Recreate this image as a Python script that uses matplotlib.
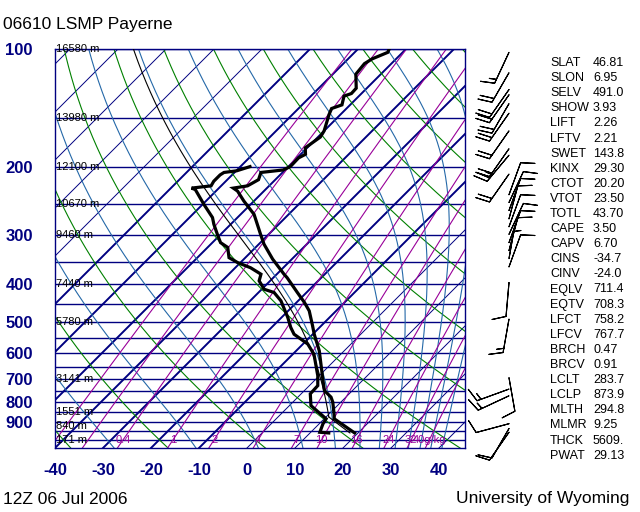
import numpy as np
import matplotlib
matplotlib.use("Agg")
import matplotlib.pyplot as plt
from matplotlib.ticker import NullLocator

plt.rcParams['font.family'] = ['Liberation Sans', 'DejaVu Sans']

# ---- sounding data ----
temp_p = [961, 884, 858, 801, 778, 749, 706, 640, 592, 537, 511, 468, 445, 420,
          385, 377, 345, 316, 298, 265, 245, 231, 227, 224, 216, 207, 204, 200,
          190, 186, 179, 168, 162, 147, 142, 139, 132, 130, 126, 116, 109, 106,
          102, 100]
temp_t = [19.3, 12.1, 11.0, 8.3, 6.9, 4.2, 1.8, -2.1, -5.2, -9.7, -11.8, -15.6,
          -18.4, -21.9, -27.1, -28.5, -34.0, -38.9, -41.7, -47.2, -52.1, -55.5,
          -57.0, -54.5, -53.5, -54.5, -50.4, -49.6, -49.7, -49.0, -50.4, -49.5,
          -50.0, -52.4, -53.1, -51.7, -53.1, -52.1, -52.2, -55.2, -55.6, -55.0,
          -53.1, -53.5]

dwpt_p = [961, 957, 911, 884, 818, 763, 727, 686, 604, 569, 537, 516, 486, 441,
          420, 412, 392, 377, 363, 352, 342, 322, 313, 298, 281, 270, 250, 229,
          227, 224, 218, 210, 207, 205, 200]
dwpt_t = [13.9, 11.9, 10.8, 10.4, 4.5, 1.9, 1.75, -0.3, -5.6, -9.0, -13.9, -16.0,
          -18.75, -23.6, -26.75, -29.5, -32.3, -33.3, -36.8, -40.6, -43.4, -45.8,
          -48.3, -50.7, -53.5, -55.2, -59.7, -64.6, -65.7, -62.1, -62.5, -62.5,
          -62.2, -59.9, -58.0]

# wind: pressure (hPa), direction (deg), speed (knots)
wind_p = [102, 115, 127, 131, 138, 146, 162, 180, 187, 209, 236, 247, 259, 272,
          285, 298, 313, 328, 344, 361, 396, 491, 694, 742, 772, 910, 936, 957]
wind_dir = [205, 210, 215, 215, 210, 215, 215, 215, 220, 215, 20, 25, 20, 15,
            20, 25, 20, 15, 10, 20, 185, 190, 170, 250, 245, 255, 210, 215]
wind_spd = [15, 20, 20, 20, 20, 20, 20, 20, 25, 20, 10, 10, 10, 10,
            10, 10, 10, 10, 5, 10, 10, 15, 10, 15, 15, 10, 10, 10]

height_p = [100, 150, 200, 250, 300, 400, 500, 700, 850, 925, 1000]
height_lbl = ["16580 m", "13980 m", "12100 m", "10670 m", "9460 m", "7440 m",
              "5780 m", "3141 m", "1551 m", "840 m", "171 m"]

isobars = [100, 150, 200, 250, 300, 350, 400, 450, 500, 550, 600, 650, 700,
           750, 800, 850, 900, 950, 1000]
mix_ratios = [0.1, 0.2, 0.4, 1, 2, 4, 7, 10, 16, 24, 32, 40]
mix_labels = {0.4: "0.4", 1: "1", 2: "2", 4: "4", 7: "7", 10: "10", 16: "16",
              24: "24", 32: "32", 40: "40g/kg"}

stat_names = ["SLAT", "SLON", "SELV", "SHOW", "LIFT", "LFTV", "SWET", "KINX",
              "CTOT", "VTOT", "TOTL", "CAPE", "CAPV", "CINS", "CINV", "EQLV",
              "EQTV", "LFCT", "LFCV", "BRCH", "BRCV", "LCLT", "LCLP", "MLTH",
              "MLMR", "THCK", "PWAT"]
stat_vals = ["46.81", "6.95", "491.0", "3.93", "2.26", "2.21", "143.8", "29.30",
             "20.20", "23.50", "43.70", "3.50", "6.70", "-34.7", "-24.0", "711.4",
             "708.3", "758.2", "767.7", "0.47", "0.91", "283.7", "873.9", "294.8",
             "9.25", "5609.", "29.13"]
lclt, lclp, mlth = 283.7, 873.9, 294.8

# ---- geometry ----
W, H = 640, 512
P_BOT, P_TOP = 1050.0, 100.0
X_MIN = -40.0
px_per_deg = 4.8
ax_w_px, ax_h_px = 410, 399
X_MAX = X_MIN + ax_w_px / px_per_deg
SKEW = (ax_h_px / np.log(P_BOT / P_TOP)) / px_per_deg

NAVY = '#000080'
GREEN = '#008000'
MOIST = '#2468a8'
PURPLE = '#990099'

RD, CP, LV, EPS = 287.04, 1005.7, 2.501e6, 0.622


def skx(t, p):
    return np.asarray(t) + SKEW * np.log(P_BOT / np.asarray(p, dtype=float))


def es(tc):
    return 6.112 * np.exp(17.67 * tc / (tc + 243.5))


def td_from_w(w, p):
    e = w * p / (622.0 + w)
    a = np.log(e / 6.112)
    return 243.5 * a / (17.67 - a)


def moist_path(t_start, p_start, p_end, n=300):
    lnp = np.linspace(np.log(p_start), np.log(p_end), n)
    t = np.empty((n,) + np.shape(t_start))
    t[0] = np.asarray(t_start) + 273.15

    def f(tk, lp):
        pp = np.exp(lp)
        e = es(tk - 273.15)
        rs = EPS * e / (pp - e)
        return (RD * tk + LV * rs) / (CP + LV * LV * rs * EPS / (RD * tk * tk))

    for i in range(n - 1):
        h = lnp[i + 1] - lnp[i]
        k1 = f(t[i], lnp[i])
        k2 = f(t[i] + h * k1 / 2, lnp[i] + h / 2)
        k3 = f(t[i] + h * k2 / 2, lnp[i] + h / 2)
        k4 = f(t[i] + h * k3, lnp[i + 1])
        t[i + 1] = t[i] + h * (k1 + 2 * k2 + 2 * k3 + k4) / 6
    return np.exp(lnp), t - 273.15


fig = plt.figure(figsize=(W / 100, H / 100), dpi=100)
ax = fig.add_axes([55 / W, (H - 448) / H, ax_w_px / W, ax_h_px / H])
ax.set_yscale('log')
ax.set_ylim(P_BOT, P_TOP)
ax.set_xlim(X_MIN, X_MAX)

pp = np.geomspace(P_BOT, P_TOP, 200)

# isobars
for p in isobars:
    ax.axhline(p, color=NAVY, lw=1.0, zorder=2)

# isotherms (the cold ones are drawn heavier, as on the original)
for t in range(-160, 60, 10):
    lw = 1.4 if -70 <= t <= -10 else 0.7
    ax.plot([t, t + SKEW * np.log(P_BOT / P_TOP)], [P_BOT, P_TOP],
            color=NAVY, lw=lw, zorder=2)

# dry adiabats
for th in np.arange(233.15, 500, 20):
    tt = th * (pp / 1000.0) ** (RD / CP) - 273.15
    ax.plot(skx(tt, pp), pp, color=GREEN, lw=0.8, zorder=2)

# moist adiabats (defined by their temperature at the top)
theta_top = np.arange(243.0, 480, 20)
t_top = theta_top * (P_TOP / 1000.0) ** (RD / CP) - 273.15
mp, mt = moist_path(t_top, P_TOP, P_BOT)
for j in range(len(t_top)):
    ax.plot(skx(mt[:, j], mp), mp, color=MOIST, lw=0.8, zorder=2)

# mixing ratio lines
for w in mix_ratios:
    ax.plot(skx(td_from_w(w, pp), pp), pp, color=PURPLE, lw=0.8, zorder=2)
    if w in mix_labels:
        ax.text(skx(td_from_w(w, 1000.0), 1000.0), 1000, mix_labels[w],
                color=PURPLE, fontsize=8, ha='center', va='center', zorder=4)

# height labels
for p, lbl in zip(height_p, height_lbl):
    ax.text(X_MIN + 0.3, p, lbl, fontsize=8, ha='left', va='center',
            color='black', zorder=4)

# parcel path: dry from surface to LCL, then moist
p_dry = np.geomspace(temp_p[0], lclp, 20)
t_dry = mlth * (p_dry / 1000.0) ** (RD / CP) - 273.15
p_m, t_m = moist_path(np.array([lclt - 273.15]), lclp, P_TOP)
ax.plot(skx(t_dry, p_dry), p_dry, color='black', lw=0.8, zorder=5)
ax.plot(skx(t_m[:, 0], p_m), p_m, color='black', lw=0.8, zorder=5)

# temperature and dewpoint
ax.plot(skx(temp_t, temp_p), temp_p, color='black', lw=2.3, zorder=6,
        solid_joinstyle='miter')
ax.plot(skx(dwpt_t, dwpt_p), dwpt_p, color='black', lw=2.3, zorder=6,
        solid_joinstyle='miter')

# axes, ticks
for s in ax.spines.values():
    s.set_color(NAVY)
    s.set_linewidth(1.0)
ax.set_xticks(range(-40, 41, 10))
ax.set_xticklabels([str(v) for v in range(-40, 41, 10)])
ax.set_yticks(range(100, 1000, 100))
ax.set_yticklabels([str(v) for v in range(100, 1000, 100)])
ax.yaxis.set_minor_locator(NullLocator())
ax.tick_params(axis='both', length=0, colors=NAVY, labelsize=12)
ax.tick_params(axis='x', pad=11)
ax.tick_params(axis='y', pad=16)
for lab in ax.get_xticklabels() + ax.get_yticklabels():
    lab.set_fontweight('bold')

# wind barbs
axw = fig.add_axes([470 / W, (H - 448) / H, 80 / W, ax_h_px / H])
axw.set_yscale('log')
axw.set_ylim(P_BOT, P_TOP)
axw.set_xlim(0, 80)
axw.axis('off')
wd = np.radians(wind_dir)
u = -np.array(wind_spd) * np.sin(wd)
v = -np.array(wind_spd) * np.cos(wd)
axw.barbs(np.full(len(wind_p), 39.0), wind_p, u, v, length=7,
          linewidth=0.8, color='black', clip_on=False)

# texts
fig.text(3 / W, 1 - 24 / H, "06610 LSMP Payerne", fontsize=12.5,
         ha='left', va='center')
fig.text(3 / W, 1 - 499 / H, "12Z 06 Jul 2006", fontsize=12.5,
         ha='left', va='center')
fig.text(629 / W, 1 - 499 / H, "University of Wyoming", fontsize=12.5,
         ha='right', va='center')

for i, (n, val) in enumerate(zip(stat_names, stat_vals)):
    y = 1 - (63 + i * 15.1) / H
    fig.text(550 / W, y, n, fontsize=9, ha='left', va='center')
    fig.text(593 / W, y, val, fontsize=9, ha='left', va='center')

fig.savefig('out.png', dpi=100)
